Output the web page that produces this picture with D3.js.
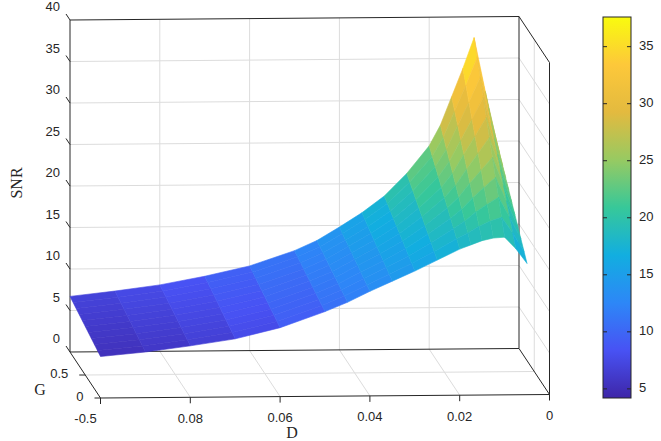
<!DOCTYPE html>
<html><head><meta charset="utf-8">
<script src="https://cdn.jsdelivr.net/npm/d3@7"></script>
<style>body{margin:0;background:#fff}</style></head>
<body><svg id="c" width="661" height="441"></svg>
<script>
const Dvals = [0.1,0.09,0.08,0.07,0.06,0.05,0.045,0.04,0.035,0.03,0.025,0.02,0.0175,0.015,0.0125,0.01,0.0075,0.005];
const snrG0 = [5.0,5.5,6.2,7.0,8.3,10.2,11.3,12.6,13.8,15.0,16.3,17.6,18.1,18.6,18.9,19.0,17.6,15.8];
const snrG1 = [6.7,7.3,8.0,9.0,10.2,12.0,13.2,14.8,16.5,18.5,21.2,24.5,27.0,30.4,33.8,37.5,31.0,25.0];
const snrRows = [snrG0, snrG1];
const dTicks = [0.1,0.08,0.06,0.04,0.02,0];
const dTickLabels = ["-0.5","0.08","0.06","0.04","0.02","0"];
const gTicks = [0.5, 0];
const gTickLabels = ["0.5","0"];
const zTicks = [0,5,10,15,20,25,30,35,40];
const cTicks = [5,10,15,20,25,30,35];

const svg = d3.select("#c");
const sx = d3.scaleLinear().domain([0.1,0]).range([0,449]);
const sz = d3.scaleLinear().domain([0,40]).range([0,332]);
const sg = d3.scaleLinear().domain([1,0]).range([0,1]);
const O = [70,352], EY=[30.5,46], dxy = -3.5/449;
function P(D,G,Z){const u=sx(D), t=sg(G), h=sz(Z);
  return [O[0]+u+t*EY[0], O[1]+u*dxy+t*EY[1]-h];}
const parula = ["#3e26a8","#4852f4","#2d87f7","#12aee0","#37c899","#97ca62","#e3ba3f","#fdc83a","#f9fb0e"];
const cmin=4.2,cmax=37.6;
const cs = d3.scaleLinear().domain(parula.map((_,i)=>cmin+(cmax-cmin)*i/(parula.length-1))).range(parula).clamp(true);

const grid="#dcdcdc", ax="#262626";
function line(a,b,c,w){svg.append("line").attr("x1",a[0]).attr("y1",a[1]).attr("x2",b[0]).attr("y2",b[1]).attr("stroke",c).attr("stroke-width",w);}
dTicks.slice(1,-1).forEach(d=>line(P(d,1,0),P(d,1,40),grid,1));
zTicks.slice(1,-1).forEach(z=>line(P(0.1,1,z),P(0,1,z),grid,1));
dTicks.slice(1,-1).forEach(d=>line(P(d,1,0),P(d,0,0),grid,1));
line(P(0.1,0.5,0),P(0,0.5,0),grid,1);
zTicks.slice(1,-1).forEach(z=>line(P(0,1,z),P(0,0,z),grid,1));
line(P(0,0.5,0),P(0,0.5,40),grid,1);
[[P(0.1,1,0),P(0.1,1,40)],[P(0.1,1,40),P(0,1,40)],[P(0,1,0),P(0,1,40)],[P(0,1,40),P(0,0,40)],
 [P(0,0,0),P(0,0,40)],[P(0.1,1,0),P(0,1,0)],[P(0.1,0,0),P(0,0,0)],[P(0.1,1,0),P(0.1,0,0)],[P(0,1,0),P(0,0,0)]]
 .forEach(e=>line(e[0],e[1],ax,1));

const NS=10, sg2=svg.append("g");
for(let i=0;i<Dvals.length-1;i++){
  for(let k=0;k<NS;k++){
    const t0=k/NS,t1=(k+1)/NS;
    const v=(j,t)=>snrRows[0][j]*(1-t)+snrRows[1][j]*t;
    const pts=[P(Dvals[i],1-t0,v(i,1-t0)),P(Dvals[i+1],1-t0,v(i+1,1-t0)),P(Dvals[i+1],1-t1,v(i+1,1-t1)),P(Dvals[i],1-t1,v(i,1-t1))];
    const col=cs((v(i,1-t0)+v(i+1,1-t0)+v(i,1-t1)+v(i+1,1-t1))/4);
    sg2.append("path").attr("d","M"+pts.join("L")+"Z").attr("fill",col).attr("stroke",col).attr("stroke-width",0.6);
  }
}
const txt=(x,y,s,o)=>svg.append("text").attr("x",x).attr("y",y).text(s)
  .attr("font-family",(o&&o.f)||"Liberation Sans, Arial").attr("font-size",(o&&o.s)||13).attr("fill",ax)
  .attr("text-anchor",(o&&o.a)||"middle").attr("dominant-baseline","middle");
zTicks.forEach(z=>{const p=P(0.1,1,z);line(p,[p[0]-4,p[1]-6],ax,1);txt(p[0]-10,p[1]-12,z,{a:"end"});});
dTicks.forEach((d,i)=>{const p=P(d,0,0);line(p,[p[0],p[1]+6],ax,1);txt(p[0]+(i==0?-15:0),p[1]+22,dTickLabels[i]);});
gTicks.forEach((g,i)=>{const p=P(0.1,g,0);line(p,[p[0]-6,p[1]],ax,1);txt(p[0]-17,p[1],gTickLabels[i],{a:"end"});});
txt(292,434,"D",{f:"Liberation Serif, Times New Roman",s:16});
txt(40,391,"G",{f:"Liberation Serif, Times New Roman",s:16});
svg.append("text").attr("transform","translate(18,183) rotate(-90)").text("SNR").attr("text-anchor","middle")
  .attr("dominant-baseline","middle").attr("font-family","Liberation Serif, Times New Roman").attr("font-size",16).attr("fill",ax);

const cb={x:603,y:17,w:28,h:381};
const cy=d3.scaleLinear().domain([cmin,cmax]).range([cb.y+cb.h,cb.y]);
const defs=svg.append("defs"), lg=defs.append("linearGradient").attr("id","cg").attr("x1",0).attr("y1",1).attr("x2",0).attr("y2",0);
parula.forEach((c,i)=>lg.append("stop").attr("offset",i/(parula.length-1)).attr("stop-color",c));
svg.append("rect").attr("x",cb.x).attr("y",cb.y).attr("width",cb.w).attr("height",cb.h).attr("fill","url(#cg)").attr("stroke",ax).attr("stroke-width",1);
cTicks.forEach(c=>{const y=cy(c);line([cb.x+cb.w-4,y],[cb.x+cb.w,y],ax,1);line([cb.x,y],[cb.x+4,y],ax,1);txt(cb.x+cb.w+8,y,c,{a:"start"});});
</script></body></html>
